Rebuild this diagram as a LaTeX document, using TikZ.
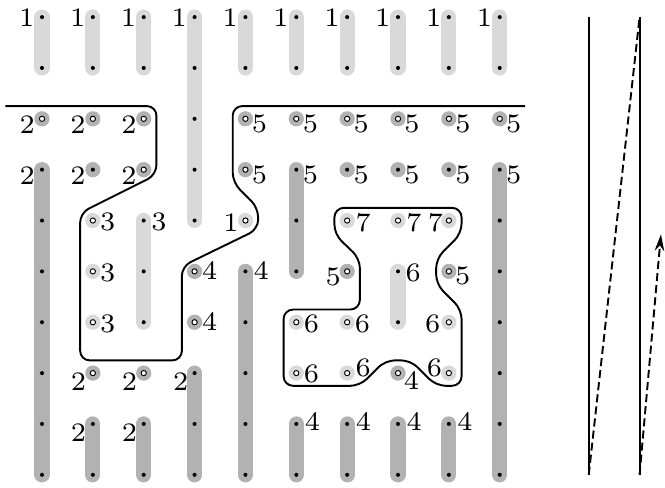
\documentclass[tikz,border=0pt]{standalone}
\usepackage{graphicx}
\usetikzlibrary{arrows.meta}
\begin{document}
\begin{tikzpicture}[x=0.75cm,y=0.75cm,
  lt/.style={black!15},
  dk/.style={black!30},
  bar/.style={line width=6.4pt,line cap=round},
  num/.style={inner sep=0pt,font=\scriptsize}]
\useasboundingbox (-0.826,0.336) rectangle (12.25,-9.25);
\foreach \c in {0,...,9}
  \foreach \r in {0,...,9}
    \coordinate (p\c-\r) at (\c,-\r);
\foreach \c/\a/\b in {0/0/1,1/0/1,2/0/1,3/0/4,4/0/1,5/0/1,6/0/1,7/0/1,8/0/1,9/0/1,2/4/6,7/5/6}
  \draw[bar,lt] (p\c-\a) -- (p\c-\b);
\foreach \c/\a/\b in {0/3/9,9/3/9,5/3/5,4/5/9,3/7/9,1/8/9,2/8/9,5/8/9,6/8/9,7/8/9,8/8/9}
  \draw[bar,dk] (p\c-\a) -- (p\c-\b);
\foreach \c/\r in {0/2,1/2,2/2,4/2,5/2,6/2,7/2,8/2,9/2,1/3,2/3,4/3,6/3,7/3,8/3,3/5,6/5,8/5,3/6,1/7,2/7,7/7}
  \fill[dk] (p\c-\r) circle (3.2pt);
\foreach \c/\r in {1/4,4/4,6/4,7/4,8/4,1/5,1/6,5/6,6/6,8/6,5/7,6/7,8/7}
  \fill[lt] (p\c-\r) circle (3.2pt);
\foreach \c in {0,...,9}
  \foreach \r in {0,...,9}
    \fill (p\c-\r) circle (0.85pt);
\foreach \c/\r in {0/2,1/2,2/2,4/2,5/2,6/2,7/2,8/2,9/2,2/3,4/3,1/4,4/4,6/4,7/4,8/4,1/5,3/5,6/5,8/5,1/6,3/6,5/6,6/6,8/6,1/7,2/7,5/7,6/7,7/7,8/7}
  \draw[fill=white,line width=0.4pt] (p\c-\r) circle (1.1pt);
\foreach \c in {0,...,9}
  \node[num,xshift=-6.4pt,yshift=-0.4pt] (l\c-0) at (p\c-0) {\scalebox{1.6}{1}};
\foreach \c/\r/\dx/\dy/\t in {0/2/-6.2/-2.5/2,1/2/-6.2/-2.5/2,2/2/-6.2/-2.5/2,
    4/2/5.9/-2.1/5,5/2/5.9/-2.1/5,6/2/5.9/-2.1/5,7/2/5.9/-2.1/5,8/2/5.9/-2.1/5,9/2/5.9/-2.1/5,
    0/3/-6.2/-2.5/2,1/3/-6.2/-2.5/2,2/3/-6.2/-2.5/2,
    4/3/5.9/-2.0/5,5/3/5.9/-2.0/5,6/3/5.9/-2.0/5,7/3/5.9/-2.0/5,8/3/5.9/-2.0/5,9/3/5.9/-2.0/5,
    1/4/6.2/-0.6/3,2/4/6.4/-0.6/3,4/4/-6.1/-0.8/1,6/4/6.7/-0.8/7,7/4/6.7/-0.8/7,8/4/-5.6/-0.8/7,
    1/5/6.2/-0.6/3,3/5/6.4/0.2/4,4/5/6.6/0.2/4,6/5/-5.8/-2.3/5,7/5/6.4/-0.6/6,8/5/5.8/-2.1/5,
    1/6/6.2/-0.6/3,3/6/6.4/0.2/4,5/6/6.4/-0.6/6,6/6/6.4/-0.6/6,8/6/-6.8/-0.6/6,
    1/7/-6.0/-3.4/2,2/7/-6.0/-3.4/2,3/7/-5.8/-3.4/2,5/7/6.4/-0.4/6,6/7/6.7/2.1/6,7/7/5.6/-2.9/4,8/7/-6.0/2.1/6,
    1/8/-6.0/-3.8/2,2/8/-6.0/-3.8/2,5/8/6.8/1.1/4,6/8/6.8/1.1/4,7/8/6.8/1.1/4,8/8/6.8/1.1/4}
  \node[num,xshift=\dx pt,yshift=\dy pt] (l\c-\r) at (p\c-\r) {\scalebox{1.6}{\t}};
\draw[thick,rounded corners=4pt] (-0.72,-1.75) -- (2.25,-1.75) -- (2.25,-3.1) -- (0.75,-3.85)
  -- (0.75,-6.75) -- (2.75,-6.75) -- (2.75,-4.9) -- (4.25,-4.17) -- (4.25,-3.75)
  -- (3.75,-3.25) -- (3.75,-1.75) -- (9.5,-1.75);
\draw[thick,rounded corners=4pt] (5.75,-3.75) -- (5.75,-4.27) -- (6.25,-4.75) -- (6.25,-5.75)
  -- (4.75,-5.75) -- (4.75,-7.25) -- (6.25,-7.25) -- (6.75,-6.75) -- (7.25,-6.75)
  -- (7.75,-7.25) -- (8.25,-7.25) -- (8.25,-5.75) -- (7.75,-5.25) -- (7.75,-4.75)
  -- (8.25,-4.25) -- (8.25,-3.75) -- cycle;
\coordinate (a0) at (10.75,0);
\coordinate (a9) at (10.75,-9);
\coordinate (b0) at (11.75,0);
\coordinate (b9) at (11.75,-9);
\coordinate (tip) at (12.17,-4.27);
\draw[thick] (a0) -- (a9);
\draw[thick] (b0) -- (b9);
\draw[thick,dash pattern=on 3.4pt off 1.7pt] (a9) -- (b0);
\draw[thick,dash pattern=on 3.4pt off 1.7pt,-{Stealth[length=7pt,width=4pt]}] (b9) -- (tip);
\end{tikzpicture}
\end{document}
